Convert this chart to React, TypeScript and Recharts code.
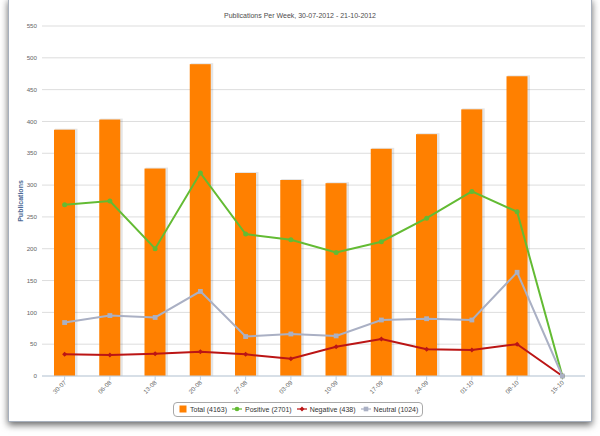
import React from 'react';
import { ComposedChart, Bar, Line, XAxis, YAxis, CartesianGrid, Legend } from 'recharts';

const weeks = ['30-07', '06-08', '13-08', '20-08', '27-08', '03-09', '10-09', '17-09', '24-09', '01-10', '08-10', '15-10'];
const totalValues = [387, 403, 326, 490, 319, 308, 303, 357, 380, 419, 471, 0];
const positiveValues = [269, 275, 200, 319, 223, 214, 194, 211, 248, 290, 258, 0];
const negativeValues = [34, 33, 35, 38, 34, 27, 46, 58, 42, 41, 50, 0];
const neutralValues = [84, 95, 92, 133, 62, 66, 63, 88, 90, 88, 163, 0];
const yTicks = [0, 50, 100, 150, 200, 250, 300, 350, 400, 450, 500, 550];
const titleText = 'Publications Per Week, 30-07-2012 - 21-10-2012';
const yAxisTitle = 'Publications';
const legendLabels = ['Total (4163)', 'Positive (2701)', 'Negative (438)', 'Neutral (1024)'];

const data = weeks.map((w, i) => ({
  week: w,
  total: totalValues[i],
  positive: positiveValues[i],
  negative: negativeValues[i],
  neutral: neutralValues[i],
}));

const FONT = '"Liberation Sans", Arial, Helvetica, sans-serif';
const ORANGE = '#ff8000';
const GREEN = '#63bb33';
const RED = '#bb1515';
const GRAY = '#aab0c4';

const BarShape = (props: any) => {
  const { x, y, width, height } = props;
  if (!height || height <= 0) return null;
  return (
    <g>
      <rect x={x + 1} y={y - 1} width={width + 1.5} height={height + 1} fill="rgba(0,0,0,0.10)" />
      <rect x={x} y={y} width={width} height={height} fill={ORANGE} />
    </g>
  );
};

const CircleDot = (props: any) => {
  const { cx, cy } = props;
  if (cx == null || cy == null) return null;
  return <circle cx={cx} cy={cy} r={2.5} fill={GREEN} />;
};

const DiamondDot = (props: any) => {
  const { cx, cy } = props;
  if (cx == null || cy == null) return null;
  const r = 2.5;
  return <path d={`M${cx},${cy - r}L${cx + r},${cy}L${cx},${cy + r}L${cx - r},${cy}Z`} fill={RED} />;
};

const SquareDot = (props: any) => {
  const { cx, cy } = props;
  if (cx == null || cy == null) return null;
  return <rect x={cx - 2.4} y={cy - 2.4} width={4.8} height={4.8} fill={GRAY} />;
};

const XTick = (props: any) => {
  const { x, y, payload } = props;
  return (
    <g transform={`translate(${x + 2},${y + 1})`}>
      <text x={0} y={0} textAnchor="end" transform="rotate(-45)" fontSize={6.2} fill="#666" fontFamily={FONT}>
        {payload.value}
      </text>
    </g>
  );
};

const YLabel = (props: any) => {
  const vb = props.viewBox || {};
  const cx = (vb.x || 0) + 20;
  const cy = (vb.y || 0) + (vb.height || 0) / 2;
  return (
    <text
      x={cx}
      y={cy}
      transform={`rotate(-90, ${cx}, ${cy})`}
      textAnchor="middle"
      dominantBaseline="central"
      fontSize={7}
      fontWeight="bold"
      fill="#4d6a96"
      fontFamily={FONT}
    >
      {yAxisTitle}
    </text>
  );
};

const LegendContent = () => {
  const itemStyle: React.CSSProperties = { display: 'inline-flex', alignItems: 'center', marginRight: 5 };
  const textStyle: React.CSSProperties = { fontSize: 7, color: '#333', fontFamily: FONT, marginLeft: 3 };
  return (
    <div
      style={{
        display: 'inline-flex',
        alignItems: 'center',
        boxSizing: 'border-box',
        height: 15,
        padding: '0 4px 0 5px',
        border: '1px solid #a9a9a9',
        borderRadius: 4,
        background: '#fff',
        whiteSpace: 'nowrap',
      }}
    >
      <span style={itemStyle}>
        <svg width={8} height={8}><rect x={0.5} y={0.5} width={7} height={7} fill={ORANGE} /></svg>
        <span style={textStyle}>{legendLabels[0]}</span>
      </span>
      <span style={itemStyle}>
        <svg width={10} height={8}>
          <line x1={0} y1={4} x2={10} y2={4} stroke={GREEN} strokeWidth={1.2} />
          <circle cx={5} cy={4} r={2.3} fill={GREEN} />
        </svg>
        <span style={textStyle}>{legendLabels[1]}</span>
      </span>
      <span style={itemStyle}>
        <svg width={10} height={8}>
          <line x1={0} y1={4} x2={10} y2={4} stroke={RED} strokeWidth={1.2} />
          <path d="M5,1.6L7.4,4L5,6.4L2.6,4Z" fill={RED} />
        </svg>
        <span style={textStyle}>{legendLabels[2]}</span>
      </span>
      <span style={{ ...itemStyle, marginRight: 0 }}>
        <svg width={10} height={8}>
          <line x1={0} y1={4} x2={10} y2={4} stroke={GRAY} strokeWidth={1.2} />
          <rect x={2.7} y={1.7} width={4.6} height={4.6} fill={GRAY} />
        </svg>
        <span style={textStyle}>{legendLabels[3]}</span>
      </span>
    </div>
  );
};

export default function App() {
  return (
    <div style={{ position: 'fixed', left: 0, top: 0, width: 600, height: 436, background: '#fff', overflow: 'hidden' }}>
      <div
        style={{
          position: 'absolute',
          left: 8,
          top: -2,
          width: 582,
          height: 422,
          background: '#fff',
          border: '1px solid #a7b0bd',
          boxShadow: '0 3px 7px rgba(0,0,0,0.6)',
        }}
      />
      <div
        style={{
          position: 'absolute',
          left: 0,
          top: 12,
          width: 600,
          textAlign: 'center',
          fontFamily: FONT,
          fontSize: 7,
          lineHeight: '8px',
          color: '#4d4d4d',
        }}
      >
        {titleText}
      </div>
      <div style={{ position: 'absolute', left: 0, top: 0 }}>
        <ComposedChart
          width={600}
          height={436}
          data={data}
          margin={{ top: 26, right: 15, bottom: 30, left: 0 }}
          style={{ fontFamily: FONT }}
        >
          <CartesianGrid vertical={false} stroke="#dddddd" strokeWidth={1} />
          <XAxis
            dataKey="week"
            height={30}
            interval={0}
            tick={<XTick />}
            tickSize={4}
            tickMargin={2}
            axisLine={{ stroke: '#c0d0e0' }}
            tickLine={{ stroke: '#c0d0e0' }}
          />
          <YAxis
            width={42}
            domain={[0, 550]}
            ticks={yTicks}
            interval={0}
            axisLine={false}
            tickLine={false}
            tickSize={0}
            tickMargin={5}
            tick={{ fontSize: 6.2, fill: '#666', fontFamily: FONT }}
            label={<YLabel />}
          />
          <Legend
            verticalAlign="middle"
            align="center"
            layout="horizontal"
            content={<LegendContent />}
            wrapperStyle={{ left: 173, top: 399, width: 260, height: 15, right: 'auto', bottom: 'auto' }}
          />
          <Bar dataKey="total" name={legendLabels[0]} barSize={21} shape={<BarShape />} isAnimationActive={false} />
          <Line dataKey="positive" name={legendLabels[1]} type="linear" stroke={GREEN} strokeWidth={2} dot={<CircleDot />} activeDot={false} isAnimationActive={false} />
          <Line dataKey="negative" name={legendLabels[2]} type="linear" stroke={RED} strokeWidth={2} dot={<DiamondDot />} activeDot={false} isAnimationActive={false} />
          <Line dataKey="neutral" name={legendLabels[3]} type="linear" stroke={GRAY} strokeWidth={2} dot={<SquareDot />} activeDot={false} isAnimationActive={false} />
        </ComposedChart>
      </div>
    </div>
  );
}
